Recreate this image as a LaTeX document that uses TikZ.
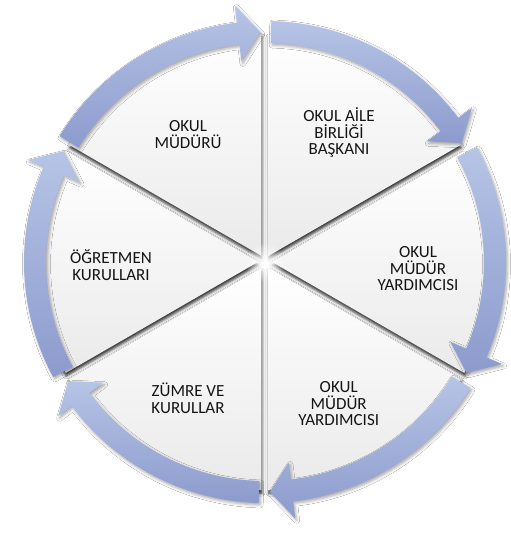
\documentclass[tikz,border=0pt]{standalone}
\usepackage{fontspec}
\setmainfont{Carlito}
\usetikzlibrary{shadows.blur,fadings}
\tikzfading[name=glowfade, inner color=transparent!0, outer color=transparent!100]
\definecolor{arrowlight}{RGB}{182,196,230}
\definecolor{arrowdark}{RGB}{140,155,205}
\definecolor{sectorgray}{RGB}{234,234,234}
\definecolor{textcol}{RGB}{20,20,20}
\newcommand\cyclearrow[2]{%
  \pgfmathsetmacro\hb{#2+5.5}%
  \shade[arrowshape] (#1:241) arc[start angle=#1, end angle=\hb, radius=241]
    -- (\hb:258) -- (#2:230) -- (\hb:202) -- (\hb:219)
    arc[start angle=\hb, end angle=#1, radius=219] -- cycle;}
\newcommand\sliceshadow[1]{%
  \pgfmathsetmacro\bend{#1-60}%
  \pgfmathsetmacro\bis{#1-30}%
  \path[sliceshadowstyle, shift={(\bis:7)}] (0,0) -- (#1:222)
    arc[start angle=#1, end angle=\bend, radius=222] -- cycle;}
\newcommand\slicefill[1]{%
  \pgfmathsetmacro\bend{#1-60}%
  \pgfmathsetmacro\bis{#1-30}%
  \shade[sliceshape, shift={(\bis:7)}] (0,0) -- (#1:222)
    arc[start angle=#1, end angle=\bend, radius=222] -- cycle;}
\tikzset{
  arrowshape/.style={top color=arrowlight, bottom color=arrowdark,
    blur shadow={shadow xshift=1.5pt, shadow yshift=-2pt, shadow opacity=35, shadow blur radius=3pt}},
  sliceshadowstyle/.style={blur shadow={shadow xshift=0.5pt, shadow yshift=-3pt, shadow opacity=85, shadow blur radius=3pt}},
  sliceshape/.style={top color=white, bottom color=sectorgray},
  lbl/.style={align=center, inner sep=0pt, text=textcol,
    font=\fontsize{17}{16.7}\selectfont}
}
\begin{document}
\begin{tikzpicture}[x=1pt, y=1pt]
\useasboundingbox[fill=white] (-265,-271) rectangle (246,262);
% pie slices: shadows first, then fills
\foreach \b in {90,30,-30,-90,-150,-210} {\sliceshadow{\b}}
\foreach \b in {90,30,-30,-90,-150,-210} {\slicefill{\b}}
% center glow
\fill[white, path fading=glowfade] (0,0) circle (20);
% arrows
\cyclearrow{148.5}{91.2}
\cyclearrow{88.5}{31.2}
\cyclearrow{28.5}{-28.8}
\cyclearrow{-31.5}{-88.8}
\cyclearrow{-91.5}{-148.8}
\cyclearrow{-151.5}{-208.8}
% labels (anchor = baseline of last line)
\node[lbl, anchor=base] (n1) at (-77,113.7) {OKUL\\MÜDÜRÜ};
\node[lbl, anchor=base] (n2) at (74,107) {OKUL AİLE\\BİRLİĞİ\\BAŞKANI};
\node[lbl, anchor=base] (n3) at (153,-28.7) {OKUL\\MÜDÜR\\YARDIMCISI};
\node[lbl, anchor=base] (n4) at (73.7,-163.7) {OKUL\\MÜDÜR\\YARDIMCISI};
\node[lbl, anchor=base] (n5) at (-77,-151.3) {ZÜMRE VE\\KURULLAR};
\node[lbl, anchor=base] (n6) at (-154,-18) {ÖĞRETMEN\\KURULLARI};
\end{tikzpicture}
\end{document}
